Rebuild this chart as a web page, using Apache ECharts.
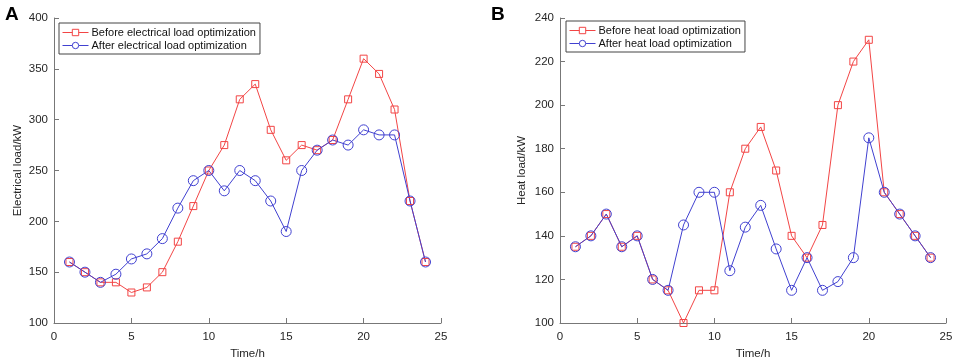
<!DOCTYPE html>
<html>
<head>
<meta charset="utf-8">
<script src="https://cdn.jsdelivr.net/npm/echarts@6/dist/echarts.min.js"></script>
<style>
html, body { margin: 0; padding: 0; background: #fff; }
#main { width: 955px; height: 361px; }
</style>
</head>
<body>
<div id="main"></div>
<script>
// hours 1..24
var hours = [1, 2, 3, 4, 5, 6, 7, 8, 9, 10, 11, 12, 13, 14, 15, 16, 17, 18, 19, 20, 21, 22, 23, 24];

// A: electrical load
var elecBefore = [160, 150, 140, 140, 130, 135, 150, 180, 215, 250, 275, 320, 335, 290, 260, 275, 270, 280, 320, 360, 345, 310, 220, 160];
var elecAfter = [160, 150, 140, 148, 163, 168, 183, 213, 240, 250, 230, 250, 240, 220, 190, 250, 270, 280, 275, 290, 285, 285, 220, 160];

// B: heat load
var heatBefore = [135, 140, 150, 135, 140, 120, 115, 100, 115, 115, 160, 180, 190, 170, 140, 130, 145, 200, 220, 230, 160, 150, 140, 130];
var heatAfter = [135, 140, 150, 135, 140, 120, 115, 145, 160, 160, 124, 144, 154, 134, 115, 130, 115, 119, 130, 185, 160, 150, 140, 130];

var RED = '#f24545';
var BLUE = '#4040d0';
var FONT = 'Liberation Sans, Arial, sans-serif';

function pairs(ys) {
	return hours.map(function (h, i) { return [h, ys[i]]; });
}

function xAxisCfg(idx) {
	return {
		gridIndex: idx,
		type: 'value',
		min: 0, max: 25, interval: 5,
		name: 'Time/h',
		nameLocation: 'middle',
		nameGap: 25,
		nameTextStyle: { fontSize: 11.5, color: '#262626', fontFamily: FONT },
		axisLine: { lineStyle: { color: '#777' } },
		axisTick: { inside: true, length: 5, lineStyle: { color: '#777' } },
		axisLabel: { fontSize: 11.5, color: '#262626', fontFamily: FONT, margin: 8 },
		splitLine: { show: false }
	};
}

function yAxisCfg(idx, name, min, max, step, gap) {
	return {
		gridIndex: idx,
		type: 'value',
		min: min, max: max, interval: step,
		name: name,
		nameLocation: 'middle',
		nameGap: gap,
		nameTextStyle: { fontSize: 11.5, color: '#262626', fontFamily: FONT },
		axisLine: { show: true, lineStyle: { color: '#777' } },
		axisTick: { show: true, inside: true, length: 5, lineStyle: { color: '#777' } },
		axisLabel: { fontSize: 11.5, color: '#262626', fontFamily: FONT, margin: 6 },
		splitLine: { show: false }
	};
}

function lineSeries(name, idx, ys, color, sym, size) {
	return {
		name: name,
		type: 'line',
		xAxisIndex: idx,
		yAxisIndex: idx,
		data: pairs(ys),
		symbol: sym,
		symbolSize: size,
		showAllSymbol: true,
		lineStyle: { color: color, width: 1 },
		itemStyle: { color: 'rgba(255,255,255,0)', borderColor: color, borderWidth: 1 },
		emphasis: { disabled: true }
	};
}

function legendCfg(names, left, top) {
	return {
		data: names,
		orient: 'vertical', left: left, top: top,
		padding: [4, 4, 3, 3], itemGap: 2, itemWidth: 26, itemHeight: 8,
		borderColor: '#444', borderWidth: 1, backgroundColor: '#fff',
		itemStyle: { color: '#fff', borderWidth: 1 },
		lineStyle: { width: 1 },
		textStyle: { fontSize: 11, color: '#111', fontFamily: FONT, padding: [0, 0, 0, -2] }
	};
}

var myChart = echarts.init(document.getElementById('main'));

var option = {
	animation: false,
	title: [
		{ text: 'A', left: 0, top: 0, textStyle: { fontSize: 19, fontWeight: 'bold', color: '#000', fontFamily: FONT } },
		{ text: 'B', left: 486, top: 0, textStyle: { fontSize: 19, fontWeight: 'bold', color: '#000', fontFamily: FONT } }
	],
	legend: [
		legendCfg(['Before electrical load optimization', 'After electrical load optimization'], 59, 23),
		legendCfg(['Before heat load optimization', 'After heat load optimization'], 566, 21)
	],
	grid: [
		{ left: 54, top: 18, width: 387, height: 305, outerBoundsMode: 'none' },
		{ left: 560, top: 18, width: 386, height: 305, outerBoundsMode: 'none' }
	],
	xAxis: [xAxisCfg(0), xAxisCfg(1)],
	yAxis: [
		yAxisCfg(0, 'Electrical load/kW', 100, 400, 50, 30),
		yAxisCfg(1, 'Heat load/kW', 100, 240, 20, 32)
	],
	series: [
		lineSeries('Before electrical load optimization', 0, elecBefore, RED, 'rect', 7),
		lineSeries('After electrical load optimization', 0, elecAfter, BLUE, 'circle', 10),
		lineSeries('Before heat load optimization', 1, heatBefore, RED, 'rect', 7),
		lineSeries('After heat load optimization', 1, heatAfter, BLUE, 'circle', 10)
	]
};

myChart.setOption(option);
</script>
</body>
</html>
